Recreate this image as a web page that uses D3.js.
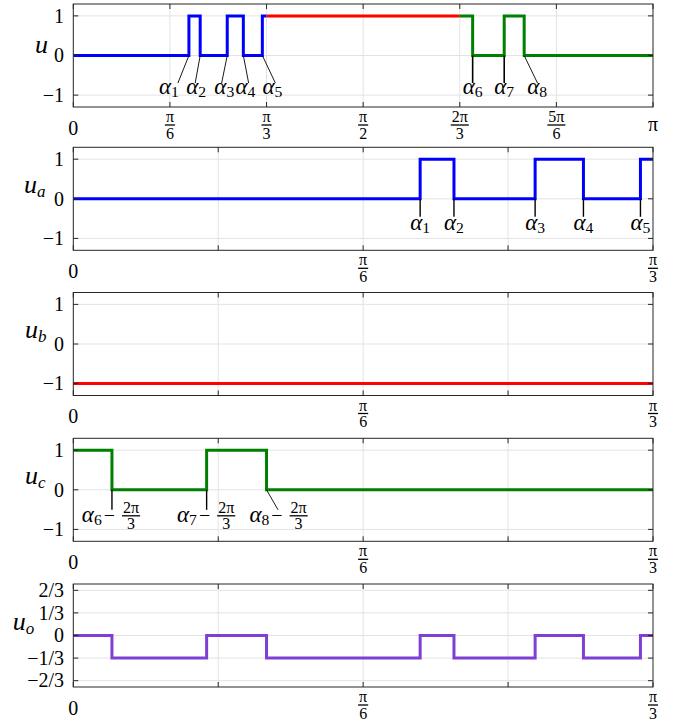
<!DOCTYPE html>
<html>
<head>
<meta charset="utf-8">
<script src="https://cdn.jsdelivr.net/npm/d3@7"></script>
<style>
body { margin: 0; background: #fff; }
text { font-family: "Liberation Serif", "DejaVu Serif", serif; fill: #000; }
</style>
</head>
<body>
<svg id="chart" width="673" height="721"></svg>
<script>
// switching angles alpha_1..alpha_8 (degrees)
var alphaDeg = [35.9, 39.4, 47.8, 52.8, 58.7, 124.0, 133.8, 140.0];
var a = alphaDeg.map(function(d) { return d * Math.PI / 180; });
var PI = Math.PI, third = 2 * PI / 3;

// step series: times where a level starts, and that level
var uBlueTimes = [0, a[0], a[1], a[2], a[3], a[4], PI / 3];
var uBlueLevels = [0, 1, 0, 1, 0, 1, 1];
var uRedTimes = [PI / 3, 2 * PI / 3];
var uRedLevels = [1, 1];
var uGreenTimes = [2 * PI / 3, a[5], a[6], a[7], PI];
var uGreenLevels = [1, 0, 1, 0, 0];

var uaTimes = [0, a[0], a[1], a[2], a[3], a[4], PI / 3];
var uaLevels = [0, 1, 0, 1, 0, 1, 1];
var ubTimes = [0, PI / 3];
var ubLevels = [-1, -1];
var ucTimes = [0, a[5] - third, a[6] - third, a[7] - third, PI / 3];
var ucLevels = [1, 0, 1, 0, 0];
var uoTimes = [0, a[5] - third, a[6] - third, a[7] - third, a[0], a[1], a[2], a[3], a[4], PI / 3];
var uoLevels = [0, -1/3, 0, -1/3, 0, -1/3, 0, -1/3, 0, 0];

// tick labels
var xLabelsFull = ["0", "π/6", "π/3", "π/2", "2π/3", "5π/6", "π"];
var xLabelsThird = ["0", "", "π/6", "", "π/3"];
var yLabelsUnit = ["−1", "0", "1"];
var yTicksUnit = [-1, 0, 1];
var yLabelsO = ["−2/3", "−1/3", "0", "1/3", "2/3"];
var yTicksO = [-2/3, -1/3, 0, 1/3, 2/3];

function pairs(ts, vs) { return ts.map(function(t, i) { return [t, vs[i]]; }); }

var left = 73.3, right = 653, ph = 103;
var panels = [
  { top: 4, name: "", lx: 35, xMax: PI, xStep: PI / 6, xLabels: xLabelsFull,
    yDomain: [-1.3, 1.3], yTicks: yTicksUnit, yLabels: yLabelsUnit,
    series: [[uBlueTimes, uBlueLevels, "#0000ff"], [uRedTimes, uRedLevels, "#ff0000"], [uGreenTimes, uGreenLevels, "#008000"]] },
  { top: 147.3, name: "a", lx: 24, xMax: PI / 3, xStep: PI / 12, xLabels: xLabelsThird,
    yDomain: [-1.3, 1.3], yTicks: yTicksUnit, yLabels: yLabelsUnit,
    series: [[uaTimes, uaLevels, "#0000ff"]] },
  { top: 292.5, name: "b", lx: 25, xMax: PI / 3, xStep: PI / 12, xLabels: xLabelsThird,
    yDomain: [-1.3, 1.3], yTicks: yTicksUnit, yLabels: yLabelsUnit,
    series: [[ubTimes, ubLevels, "#ff0000"]] },
  { top: 438.3, name: "c", lx: 25, xMax: PI / 3, xStep: PI / 12, xLabels: xLabelsThird,
    yDomain: [-1.3, 1.3], yTicks: yTicksUnit, yLabels: yLabelsUnit,
    series: [[ucTimes, ucLevels, "#008000"]] },
  { top: 584, name: "o", lx: 12.7, xMax: PI / 3, xStep: PI / 12, xLabels: xLabelsThird,
    yDomain: [-0.76, 0.76], yTicks: yTicksO, yLabels: yLabelsO,
    series: [[uoTimes, uoLevels, "#7e3fd2"]] }
];

var svg = d3.select("#chart");

function frac(g, cx, bar, num, den, fs) {
  var n = g.append("text").attr("x", cx).attr("y", bar - 3).attr("text-anchor", "middle")
    .style("font-size", fs + "px").text(num);
  var w = n.node().getComputedTextLength() + 2;
  g.append("line").attr("x1", cx - w / 2).attr("x2", cx + w / 2).attr("y1", bar).attr("y2", bar)
    .attr("stroke", "#000").attr("stroke-width", 1.3);
  g.append("text").attr("x", cx).attr("y", bar + fs * 0.85).attr("text-anchor", "middle")
    .style("font-size", fs + "px").text(den);
  return w;
}

panels.forEach(function(p) {
  var x = d3.scaleLinear().domain([0, p.xMax]).range([left, right]);
  var y = d3.scaleLinear().domain(p.yDomain).range([p.top + ph, p.top]);
  p.x = x; p.y = y;
  var g = svg.append("g");
  var xt = d3.range(p.xLabels.length).map(function(i) { return i * p.xStep; });

  // grid
  g.selectAll(".gx").data(xt.slice(1, -1)).enter().append("line")
    .attr("x1", x).attr("x2", x).attr("y1", p.top).attr("y2", p.top + ph)
    .attr("stroke", "#e3e3e3").attr("stroke-width", 1);
  g.selectAll(".gy").data(p.yTicks).enter().append("line")
    .attr("x1", left).attr("x2", right).attr("y1", y).attr("y2", y)
    .attr("stroke", "#e3e3e3").attr("stroke-width", 1);

  // series
  var line = d3.line().x(function(d) { return x(d[0]); }).y(function(d) { return y(d[1]); })
    .curve(d3.curveStepAfter);
  p.series.forEach(function(s) {
    g.append("path").attr("d", line(pairs(s[0], s[1])))
      .attr("fill", "none").attr("stroke", s[2]).attr("stroke-width", 3);
  });

  // box and inner ticks
  g.append("rect").attr("x", left).attr("y", p.top).attr("width", right - left).attr("height", ph)
    .attr("fill", "none").attr("stroke", "#262626").attr("stroke-width", 1);
  var tk = 5;
  xt.forEach(function(t) {
    g.append("line").attr("x1", x(t)).attr("x2", x(t)).attr("y1", p.top + ph).attr("y2", p.top + ph - tk)
      .attr("stroke", "#262626");
    g.append("line").attr("x1", x(t)).attr("x2", x(t)).attr("y1", p.top).attr("y2", p.top + tk)
      .attr("stroke", "#262626");
  });
  p.yTicks.forEach(function(v) {
    g.append("line").attr("x1", left).attr("x2", left + tk).attr("y1", y(v)).attr("y2", y(v)).attr("stroke", "#262626");
    g.append("line").attr("x1", right).attr("x2", right - tk).attr("y1", y(v)).attr("y2", y(v)).attr("stroke", "#262626");
  });

  // y tick labels
  p.yTicks.forEach(function(v, i) {
    g.append("text").attr("x", 64).attr("y", y(v)).attr("dy", "0.34em").attr("text-anchor", "end")
      .style("font-size", "20px").text(p.yLabels[i]);
  });

  // x tick labels
  var yb = p.top + ph;
  p.xLabels.forEach(function(lab, i) {
    if (!lab) return;
    var cx = x(xt[i]);
    if (lab.indexOf("/") < 0) {
      g.append("text").attr("x", cx).attr("y", yb + (lab === "π" ? 24 : 27.5)).attr("text-anchor", "middle")
        .style("font-size", "20px").text(lab);
    } else {
      var parts = lab.split("/");
      frac(g, cx, yb + 18, parts[0], parts[1], 16);
    }
  });

  // y label
  var z = y(0);
  var lt = g.append("text").attr("x", p.lx).attr("y", p.name ? z - 6 : z - 2.6)
    .style("font-size", "26px").style("font-style", "italic").text("u");
  if (p.name) {
    lt.append("tspan").attr("dy", 4).style("font-size", "17px").text(p.name);
  }
});

// annotations
function alphaText(g, cx, base, k, fs, anchor) {
  var t = g.append("text").attr("x", cx).attr("y", base).attr("text-anchor", anchor || "middle")
    .style("font-size", fs + "px");
  t.append("tspan").style("font-style", "italic").text("α");
  t.append("tspan").attr("dy", 3).style("font-size", (fs * 0.68) + "px").text(k);
  return t;
}

// panel 1: label offset (px) and leader-line end offset (px) relative to the switch
var notes1Label = [-20, -4, -3, 2, 10, 0, 0, 13];
var notes1Line = [-11, -5, -5.6, 5.3, 13, 0, 0, 13.3];
(function() {
  var p = panels[0], g = svg.append("g"), z = p.y(0);
  a.forEach(function(t, i) {
    var sx = p.x(t);
    g.append("line").attr("x1", sx).attr("y1", z).attr("x2", sx + notes1Line[i]).attr("y2", z + 27.5)
      .attr("stroke", "#000").attr("stroke-width", notes1Line[i] === 0 ? 1.6 : 0.9);
    alphaText(g, sx + notes1Label[i], z + 38, i + 1, 23);
  });
})();

// panel 2: vertical leaders at alpha_1..alpha_5
(function() {
  var p = panels[1], g = svg.append("g"), z = p.y(0);
  a.slice(0, 5).forEach(function(t, i) {
    var sx = p.x(t);
    g.append("line").attr("x1", sx).attr("y1", z).attr("x2", sx).attr("y2", z + 18)
      .attr("stroke", "#000").attr("stroke-width", 1.4);
    alphaText(g, sx, z + 31.5, i + 1, 23);
  });
})();

// panel 4: alpha_6..alpha_8 shifted by 2pi/3
var notes4Label = [-1, -0.5, 12];
var notes4Line = [0, 0, 11.5];
(function() {
  var p = panels[3], g = svg.append("g"), z = p.y(0);
  [5, 6, 7].forEach(function(k, j) {
    var sx = p.x(a[k] - third);
    g.append("line").attr("x1", sx).attr("y1", z).attr("x2", sx + notes4Line[j]).attr("y2", z + 20)
      .attr("stroke", "#000").attr("stroke-width", notes4Line[j] === 0 ? 1.4 : 0.9);
    var lg = g.append("g");
    var t = alphaText(lg, 0, z + 32, k + 1, 23, "start");
    t.append("tspan").attr("dy", -3).attr("dx", 2).style("font-size", "20px").text("−");
    var w1 = t.node().getComputedTextLength() + 2;
    var tmp = lg.append("text").style("font-size", "16px").text("2π");
    var fwh = (tmp.node().getComputedTextLength() + 2) / 2;
    tmp.remove();
    var gap = 7;
    frac(lg, w1 + gap + fwh, z + 26, "2π", "3", 16);
    var total = w1 + gap + 2 * fwh;
    lg.attr("transform", "translate(" + (sx + notes4Label[j] - total / 2) + ",0)");
  });
})();
</script>
</body>
</html>
